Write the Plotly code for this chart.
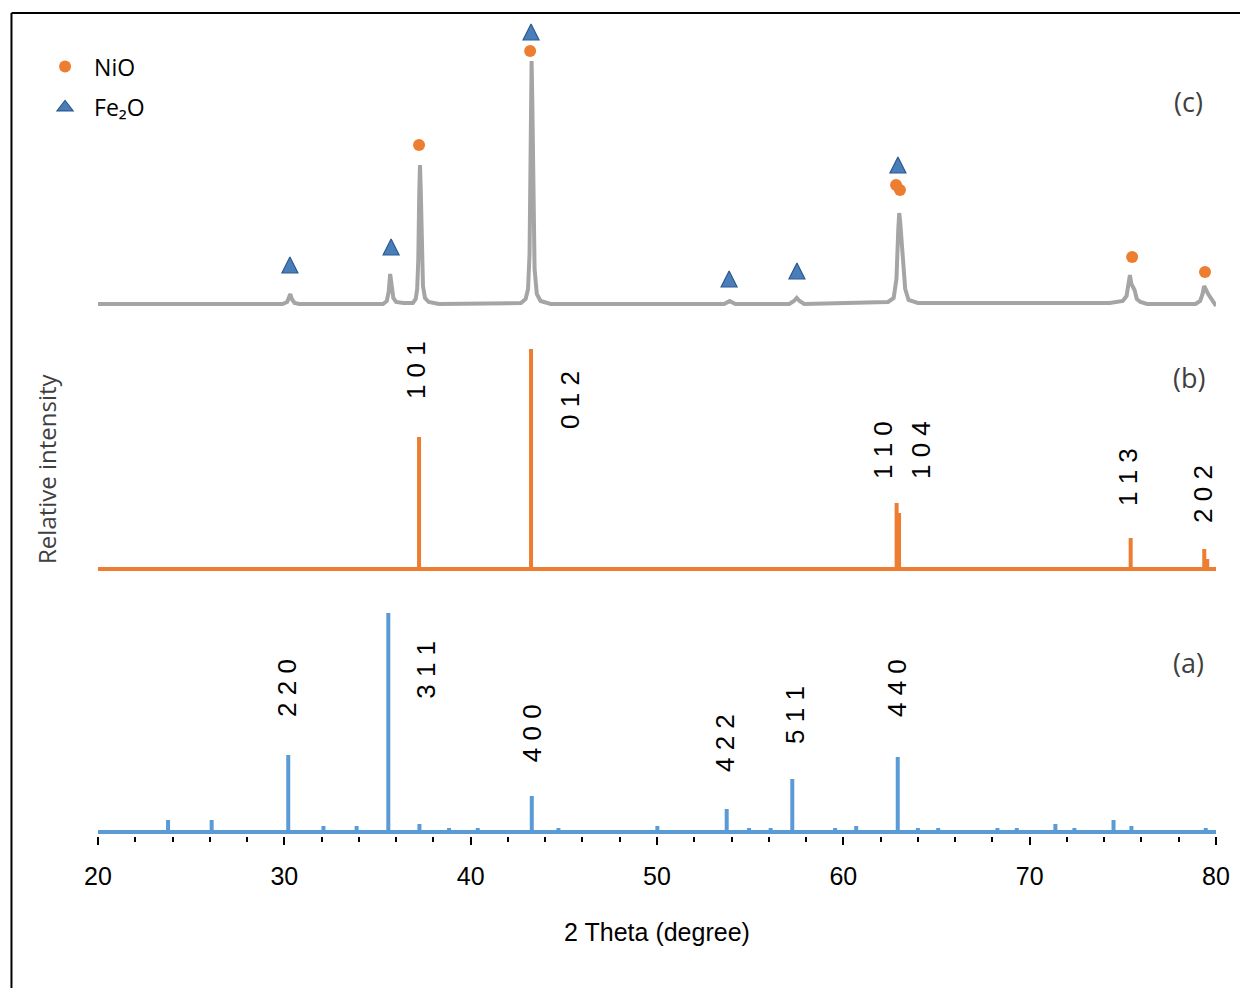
import plotly.graph_objects as go

# ---------------- data ----------------
x_min, x_max = 20, 80

# (a) blue reference stick pattern (2-theta, relative intensity)
a_pos = [23.76, 26.10, 30.21, 32.10, 33.88, 35.58, 37.25, 38.84, 40.38, 43.28,
         44.71, 50.02, 53.74, 54.94, 56.10, 57.26, 59.56, 60.69, 62.92, 64.00,
         65.09, 68.27, 69.31, 71.38, 72.40, 74.50, 75.46, 79.45]
a_int = [12, 12, 77, 6, 6, 219, 8, 4, 4, 36,
         4, 6, 23, 4, 4, 53, 4, 6, 75, 4,
         4, 4, 4, 8, 4, 12, 6, 4]
a_hkl = ["2 2 0", "3 1 1", "4 0 0", "4 2 2", "5 1 1", "4 4 0"]
a_hkl_x = [30.14, 37.59, 43.30, 53.65, 57.40, 62.88]
a_hkl_y = [144, 162, 99, 89, 117, 144]

# (b) orange reference stick pattern
b_pos = [37.23, 43.24, 62.86, 62.99, 75.42, 79.37, 79.53]
b_int = [132, 220, 66, 56, 31, 20, 10]
b_hkl = ["1 0 1", "0 1 2", "1 1 0", "1 0 4", "1 1 3", "2 0 2"]
b_hkl_x = [37.07, 45.33, 62.13, 64.17, 75.28, 79.30]
b_hkl_y = [199, 169, 119, 119, 92, 75]

# (c) measured pattern (gray)
c_x = [20.0, 29.9, 30.15, 30.25, 30.32, 30.4, 30.55, 30.8,
       35.3, 35.5, 35.6, 35.68, 35.76, 35.85, 36.0, 36.4,
       36.9, 37.05, 37.13, 37.19, 37.24, 37.28, 37.32, 37.37, 37.44, 37.55, 37.75, 38.3,
       42.7, 42.95, 43.08, 43.16, 43.22, 43.27, 43.31, 43.36, 43.43, 43.55, 43.75, 44.3,
       53.6, 53.8, 53.9, 54.0, 54.2,
       57.1, 57.35, 57.5, 57.65, 57.9,
       61.8, 62.4, 62.7, 62.85, 62.95, 63.0, 63.06, 63.14, 63.22, 63.32, 63.5, 64.0,
       74.3, 74.6, 75.0, 75.2, 75.3, 75.38, 75.46, 75.55, 75.63, 75.75, 75.95, 76.3,
       78.9, 79.15, 79.28, 79.36, 79.45, 79.55, 79.65, 79.8, 80.0]
c_y = [0, 0, 2, 7, 10, 5, 1, 0,
       0, 3, 12, 30, 18, 6, 2, 1,
       1, 5, 15, 45, 110, 139, 115, 50, 18, 6, 2, 0,
       1, 5, 15, 50, 150, 243, 200, 100, 35, 10, 3, 0,
       0, 2, 3, 2, 0,
       0, 3, 6, 3, 0,
       1, 2, 6, 25, 75, 91, 80, 62, 45, 15, 4, 1,
       1, 2, 3, 8, 18, 29, 20, 17, 14, 5, 2, 0,
       0, 3, 10, 18, 14, 11, 8, 3, -2]

# phase markers on pattern (c)
nio_x = [37.23, 43.19, 62.83, 63.04, 75.50, 79.41]
nio_y = [159, 253, 119, 114, 47, 32]
fe_x = [30.30, 35.73, 43.24, 53.87, 57.51, 62.93]
fe_y = [47, 65, 280, 33, 41, 147]

panel_labels = ["(a)", "(b)", "(c)"]
panel_label_y = [170, 192, 203]
offsets = [0, 263, 528]

# ---------------- build ----------------
def sticks(pos, inten, base):
    xs, ys = [x_min], [base]
    for p, h in zip(pos, inten):
        xs += [p, p, p]
        ys += [base, base + h, base]
    xs.append(x_max)
    ys.append(base)
    return xs, ys

fig = go.Figure()

ax, ay = sticks(a_pos, a_int, offsets[0])
fig.add_trace(go.Scatter(x=ax, y=ay, mode="lines", showlegend=False,
                         line=dict(color="#5B9BD5", width=4), hoverinfo="skip"))
bx, by = sticks(b_pos, b_int, offsets[1])
fig.add_trace(go.Scatter(x=bx, y=by, mode="lines", showlegend=False,
                         line=dict(color="#ED7D31", width=4), hoverinfo="skip"))
fig.add_trace(go.Scatter(x=c_x, y=[v + offsets[2] for v in c_y], mode="lines",
                         showlegend=False, line=dict(color="#A5A5A5", width=4),
                         hoverinfo="skip"))

fig.add_trace(go.Scatter(x=nio_x, y=[v + offsets[2] for v in nio_y], mode="markers",
                         name="NiO", legendgroup="nio",
                         marker=dict(symbol="circle", size=12, color="#ED7D31",
                                     line=dict(width=0)), cliponaxis=False))
fig.add_trace(go.Scatter(x=fe_x, y=[v + offsets[2] for v in fe_y], mode="markers",
                         name="Fe₂O", legendgroup="fe", showlegend=False,
                         marker=dict(symbol="arrow-up", size=16, color="#4A7EBB",
                                     line=dict(width=1.2, color="#2C5A8F")),
                         cliponaxis=False))
fig.add_trace(go.Scatter(x=[None], y=[None], mode="markers", name="Fe₂O",
                         legendgroup="fe",
                         marker=dict(symbol="triangle-up", size=14, color="#4A7EBB",
                                     line=dict(width=1.2, color="#2C5A8F"))))

for t, x, y in zip(a_hkl, a_hkl_x, a_hkl_y):
    fig.add_annotation(x=x, y=y + offsets[0], text=t, textangle=-90, showarrow=False,
                       font=dict(family="Liberation Sans", size=26, color="#000000"))
for t, x, y in zip(b_hkl, b_hkl_x, b_hkl_y):
    fig.add_annotation(x=x, y=y + offsets[1], text=t, textangle=-90, showarrow=False,
                       font=dict(family="Liberation Sans", size=26, color="#000000"))

for t, off, yy in zip(panel_labels, offsets, panel_label_y):
    fig.add_annotation(x=78.55, y=off + yy, text=t, showarrow=False,
                       font=dict(family="Open Sans", size=27, color="#404040"))

fig.add_annotation(xref="paper", yref="paper", x=-0.0456, y=0.446,
                   xanchor="center", yanchor="middle",
                   text="Relative intensity", textangle=-90, showarrow=False,
                   font=dict(family="Open Sans", size=24, color="#404040"))

# outer frame
fig.add_shape(type="line", xref="paper", yref="paper", x0=-0.0774, x1=-0.0774,
              y0=1.0, y1=-0.2, line=dict(color="black", width=2))
fig.add_shape(type="line", xref="paper", yref="paper", x0=-0.0774, x1=1.04,
              y0=1.0, y1=1.0, line=dict(color="black", width=2))

# the page body has an 8px margin, so the figure is 8px smaller and shifted
fig.update_layout(
    width=1240, height=980,
    margin=dict(l=90, r=32, t=5, b=152),
    paper_bgcolor="white", plot_bgcolor="white",
    showlegend=True,
    legend=dict(x=-0.0554, y=0.961, xanchor="left", yanchor="top",
                font=dict(family="Open Sans", size=23, color="#000000"),
                tracegroupgap=8, bgcolor="rgba(0,0,0,0)", itemwidth=48),
    xaxis=dict(range=[x_min, x_max], tickvals=list(range(20, 81, 10)),
               ticks="outside", ticklen=8, tickwidth=2, tickcolor="black",
               minor=dict(dtick=2, ticks="outside", ticklen=5, tickwidth=2,
                          tickcolor="black"),
               showline=False, showgrid=False, zeroline=False,
               tickfont=dict(family="Liberation Sans", size=25, color="#000000"),
               ticklabelstandoff=10,
               title=dict(text="2 Theta (degree)", standoff=34,
                          font=dict(family="Liberation Sans", size=25,
                                    color="#000000")),
               layer="below traces"),
    yaxis=dict(range=[-4, 819], visible=False),
)

fig.write_html("out.html")
